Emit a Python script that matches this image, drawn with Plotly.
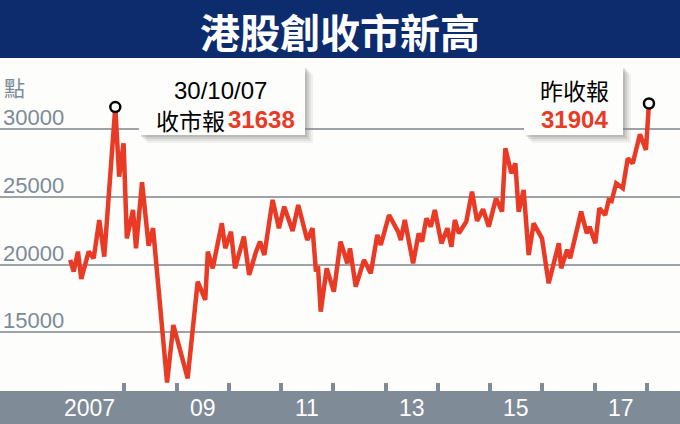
import plotly.graph_objects as go

# ---------------- data ----------------
dates = [
    "2006-12-19", "2007-01-12", "2007-02-11", "2007-03-06", "2007-04-27", "2007-06-01",
    "2007-07-10", "2007-08-14", "2007-10-30", "2007-11-26", "2007-12-27", "2008-01-19",
    "2008-03-02", "2008-03-23", "2008-05-04", "2008-06-19", "2008-07-20", "2008-10-26",
    "2008-12-09", "2009-03-19", "2009-05-28", "2009-07-20", "2009-08-07", "2009-09-10",
    "2009-11-13", "2009-12-07", "2010-01-16", "2010-02-13", "2010-04-16", "2010-05-23",
    "2010-07-10", "2010-08-07", "2010-09-06", "2010-11-03", "2010-12-17", "2011-01-23",
    "2011-03-23", "2011-05-01", "2011-07-03", "2011-08-09", "2011-09-02", "2011-09-16",
    "2011-10-05", "2011-11-16", "2012-01-05", "2012-02-21", "2012-04-08", "2012-04-27",
    "2012-06-06", "2012-08-03", "2012-09-19", "2012-11-04", "2012-11-28", "2013-01-25",
    "2013-03-29", "2013-04-17", "2013-05-15", "2013-07-12", "2013-08-20", "2013-09-13",
    "2013-10-13", "2013-11-13", "2013-12-11", "2014-01-26", "2014-03-09", "2014-04-06",
    "2014-04-30", "2014-05-28", "2014-07-19", "2014-08-28", "2014-10-02", "2014-11-13",
    "2014-12-23", "2015-02-12", "2015-03-26", "2015-04-18", "2015-05-30", "2015-06-27",
    "2015-07-20", "2015-08-24", "2015-09-28", "2015-11-02", "2015-12-30", "2016-02-15",
    "2016-04-26", "2016-05-12", "2016-06-23", "2016-07-14", "2016-09-29", "2016-11-07",
    "2016-11-27", "2017-01-06", "2017-02-03", "2017-03-16", "2017-04-10", "2017-04-30",
    "2017-06-01", "2017-07-17", "2017-08-21", "2017-09-25", "2017-11-14", "2017-12-26",
    "2018-01-16",
]
values = [
    20349, 19487, 20965, 18946, 20965, 20472,
    23303, 20595, 31638, 26504, 28966, 21949,
    24042, 21210, 26085, 21400, 22700, 11300,
    15548, 11609, 18749, 17395, 20965, 19733,
    23057, 21210, 22442, 19733, 22072, 19241,
    20965, 21703, 20718, 24781, 22688, 24288,
    22491, 24411, 21826, 22688, 19500, 19900,
    16533, 19733, 18010, 21703, 20103, 21210,
    18379, 20349, 19364, 22196, 21456, 23672,
    22442, 21826, 23303, 20103, 22319, 21703,
    23426, 22811, 24042, 21580, 22688, 21333,
    23303, 22319, 23180, 25396, 23229, 24100,
    22811, 24904, 23919, 28597, 26750, 27489,
    23919, 25519, 20718, 23057, 21949, 18626,
    21580, 19733, 21100, 20472, 23919, 22319,
    22800, 21580, 24165, 23672, 24781, 24700,
    26011, 25642, 27858, 27489, 29631, 28474,
    31904,
]
highlight_idx = [8, len(values) - 1]          # 30/10/07 peak and latest close
y_grid = [15000, 20000, 25000, 30000]
y_labels = ["15000", "20000", "25000", "30000"]
year_ticks = ["2008-01-01", "2009-01-01", "2010-01-01", "2011-01-01", "2012-01-01", "2013-01-01",
              "2014-01-01", "2015-01-01", "2016-01-01", "2017-01-01", "2018-01-01"]
year_label_dates = ["2007-05-01", "2009-07-01", "2011-07-01", "2013-07-01", "2015-07-01", "2017-07-01"]
year_labels = ["2007", "09", "11", "13", "15", "17"]
title_text = "港股創收市新高"
unit_text = "點"
peak_caption = "收市報"
last_caption = "昨收報"

# ---------------- styling ----------------
W, H = 680, 424
RED = "#e93a26"
NAVY = "#0c2c6e"
BAR = "#7f8b97"
GRID = "#9ea2a6"
LABEL = "#7c8b97"
BG = "#fdfdfb"
LAT = "Liberation Sans, Arial, sans-serif"
NUMF = "Liberation Sans, Arial, sans-serif"
CJK = "Noto Sans CJK TC, Noto Sans CJK SC, sans-serif"


def px(x):
    return x / W


def py(y):
    return 1 - y / H


fig = go.Figure()
fig.add_trace(go.Scatter(
    x=dates, y=values, mode="lines",
    line=dict(color=RED, width=4.5),
    hoverinfo="skip", showlegend=False,
))
fig.add_trace(go.Scatter(
    x=[dates[i] for i in highlight_idx], y=[values[i] for i in highlight_idx],
    mode="markers",
    marker=dict(symbol="circle", size=10, color="white", line=dict(color="black", width=2.5)),
    hoverinfo="skip", showlegend=False,
))

shapes = []
# title bar
shapes.append(dict(type="rect", xref="paper", yref="paper", x0=0, x1=1, y0=py(58), y1=1,
                   fillcolor=NAVY, line=dict(width=0), layer="above"))
# bottom axis bar
shapes.append(dict(type="rect", xref="paper", yref="paper", x0=0, x1=1, y0=0, y1=py(391),
                   fillcolor=BAR, line=dict(width=0), layer="above"))


def callout(x0, x1, y0, y1):
    # soft drop shadow
    for off, op in [(8, 0.10), (6, 0.14), (4, 0.20), (2, 0.25)]:
        shapes.append(dict(type="rect", xref="paper", yref="paper",
                           x0=px(x0 + off), x1=px(x1 + off), y0=py(y1 + off), y1=py(y0 + off),
                           fillcolor="#808080", opacity=op, line=dict(width=0), layer="above"))
    shapes.append(dict(type="rect", xref="paper", yref="paper",
                       x0=px(x0), x1=px(x1), y0=py(y1), y1=py(y0),
                       fillcolor=BG, line=dict(width=0), layer="above"))


callout(139, 305, 66, 135)
callout(524, 623, 66, 135)

annotations = []
annotations.append(dict(text=f"<b>{title_text}</b>", xref="paper", yref="paper", x=px(340), y=py(31),
                        xanchor="center", yanchor="middle", showarrow=False,
                        font=dict(family=CJK, size=40, color="white", weight=900)))
annotations.append(dict(text=unit_text, xref="paper", yref="paper", x=px(2), y=py(87),
                        xanchor="left", yanchor="middle", showarrow=False,
                        font=dict(family=CJK, size=21, color=LABEL)))
for v, t in zip(y_grid, y_labels):
    annotations.append(dict(text=t, xref="paper", yref="y", x=0, y=v, xshift=1, yshift=-3,
                            xanchor="left", yanchor="bottom", showarrow=False,
                            font=dict(family=LAT, size=22, color=LABEL)))
for d, t in zip(year_label_dates, year_labels):
    annotations.append(dict(text=t, xref="x", yref="paper", x=d, y=py(408),
                            xanchor="center", yanchor="middle", showarrow=False,
                            font=dict(family=LAT, size=23, color="white")))

pk = highlight_idx[0]
y_, m_, d_ = dates[pk].split("-")
annotations.append(dict(text=f"{d_}/{m_}/{y_[2:]}", xref="paper", yref="paper", x=px(220), y=py(90),
                        xanchor="center", yanchor="middle", showarrow=False,
                        font=dict(family=LAT, size=24, color="black")))
annotations.append(dict(text=peak_caption, xref="paper", yref="paper", x=px(227), y=py(120),
                        xanchor="right", yanchor="middle", showarrow=False,
                        font=dict(family=CJK, size=23, color="black")))
annotations.append(dict(text=f"<b>{values[pk]}</b>", xref="paper", yref="paper", x=px(226), y=py(120),
                        xanchor="left", yanchor="middle", showarrow=False,
                        font=dict(family=NUMF, size=24, color=RED)))
lt = highlight_idx[1]
annotations.append(dict(text=last_caption, xref="paper", yref="paper", x=px(574), y=py(90),
                        xanchor="center", yanchor="middle", showarrow=False,
                        font=dict(family=CJK, size=23, color="black")))
annotations.append(dict(text=f"<b>{values[lt]}</b>", xref="paper", yref="paper", x=px(574), y=py(120),
                        xanchor="center", yanchor="middle", showarrow=False,
                        font=dict(family=NUMF, size=24, color=RED)))

fig.update_layout(
    width=W, height=H,
    margin=dict(l=0, r=0, t=0, b=0),
    paper_bgcolor=BG, plot_bgcolor=BG,
    shapes=shapes, annotations=annotations,
    xaxis=dict(type="date", range=["2005-08-15", "2018-08-21"],
               showgrid=False, zeroline=False, showline=False,
               showticklabels=False, ticks="inside", ticklen=8, tickwidth=4, tickcolor=BAR,
               tickmode="array", tickvals=year_ticks,
               anchor="free", position=1 - 391 / H),
    yaxis=dict(range=[8234, 39550], tickvals=y_grid, showticklabels=False,
               showgrid=True, gridcolor=GRID, gridwidth=1.5,
               zeroline=False, showline=False, ticks=""),
)

fig.write_html(
    "out.html",
    config={"displayModeBar": False},
    post_script="document.body.style.margin='0';document.body.style.padding='0';"
                "document.body.style.overflow='hidden';",
)
